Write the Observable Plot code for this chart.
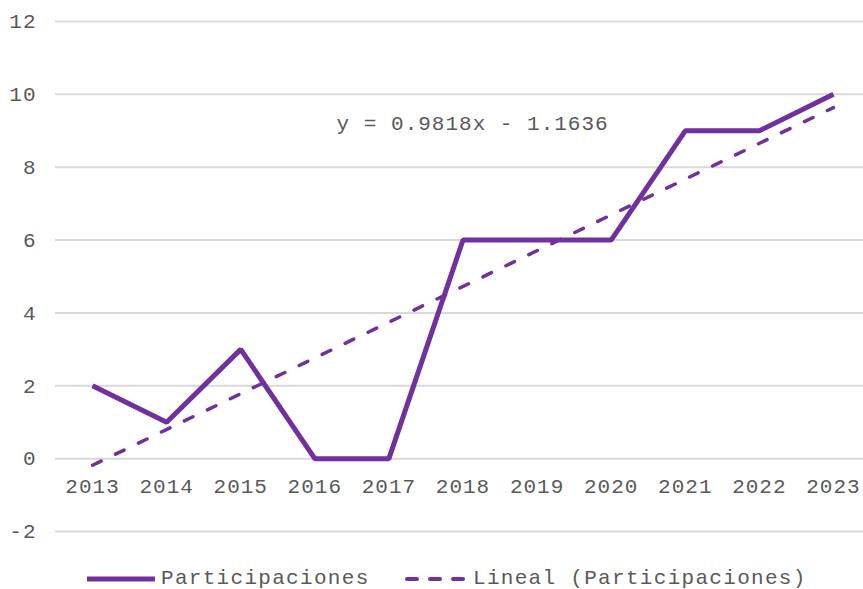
<!DOCTYPE html>
<html>
<head>
<meta charset="utf-8">
<script src="https://cdn.jsdelivr.net/npm/d3@7"></script>
<script src="https://cdn.jsdelivr.net/npm/@observablehq/plot@0.6"></script>
<style>
  html, body { margin: 0; padding: 0; background: #fff; }
  #chart { width: 863px; height: 589px; overflow: hidden; position: relative; }
  .legend { position: absolute; left: 0; top: 560px; width: 863px; height: 29px;
    font-family: "Liberation Mono", "Courier New", monospace; font-size: 21px; color: #595959; letter-spacing: 1.3px; }
  .legend .item { position: absolute; top: 7px; display: flex; align-items: center; white-space: nowrap; }
  .legend svg { display: block; margin-right: 6px; }
</style>
</head>
<body>
<div id="chart"></div>
<script>
const years = [2013, 2014, 2015, 2016, 2017, 2018, 2019, 2020, 2021, 2022, 2023];
const participaciones = [2, 1, 3, 0, 0, 6, 6, 6, 9, 9, 10];
const yTicks = [-2, 0, 2, 4, 6, 8, 10, 12];
const seriesName = "Participaciones";
const trendName = "Lineal (Participaciones)";
const equationLabel = "y = 0.9818x - 1.1636";
const equationPos = {year: 2018.13, value: 9.2};

const data = years.map((y, i) => ({year: y, value: participaciones[i]}));
const purple = "#7030A0";
const textColor = "#595959";
const font = '"Liberation Mono", "Courier New", monospace';

const plot = Plot.plot({
  width: 863,
  height: 560,
  marginLeft: 55,
  marginRight: 0,
  marginTop: 21,
  marginBottom: 29,
  style: {fontFamily: font, fontSize: "21px", color: textColor, background: "#fff", overflow: "visible", letterSpacing: "1px"},
  x: {domain: [2012.5, 2023.5], range: [55, 870], axis: null},
  y: {domain: [-2, 12], axis: null},
  marks: [
    Plot.ruleY(yTicks, {stroke: "#d9d9d9", strokeWidth: 2}),
    Plot.axisY({ticks: yTicks, tickSize: 0, tickPadding: 19, tickFormat: d => String(d), label: null, fill: textColor, fontSize: 21}),
    Plot.text(years, {x: d => d, y: () => 0, dy: 28, text: d => String(d), fill: textColor, fontSize: 21}),
    Plot.linearRegressionY(data, {x: "year", y: "value", ci: 0, stroke: purple, strokeWidth: 3.5, strokeDasharray: "9.5,16", strokeLinecap: "round"}),
    Plot.line(data, {x: "year", y: "value", stroke: purple, strokeWidth: 5, strokeLinejoin: "miter", strokeLinecap: "butt"}),
    Plot.text([equationPos], {x: "year", y: "value", text: () => equationLabel, fill: textColor, fontSize: 21})
  ]
});
const chart = document.getElementById("chart");
chart.appendChild(plot);

const legend = document.createElement("div");
legend.className = "legend";
legend.innerHTML = `
  <div class="item" style="left:87px"><svg width="68" height="10"><line x1="0" y1="5" x2="68" y2="5" stroke="${purple}" stroke-width="5" stroke-linecap="round"/></svg><span>${seriesName}</span></div>
  <div class="item" style="left:405px"><svg width="62" height="10"><line x1="2" y1="5" x2="60" y2="5" stroke="${purple}" stroke-width="4" stroke-dasharray="10,13" stroke-linecap="round"/></svg><span>${trendName}</span></div>`;
chart.appendChild(legend);
</script>
</body>
</html>
